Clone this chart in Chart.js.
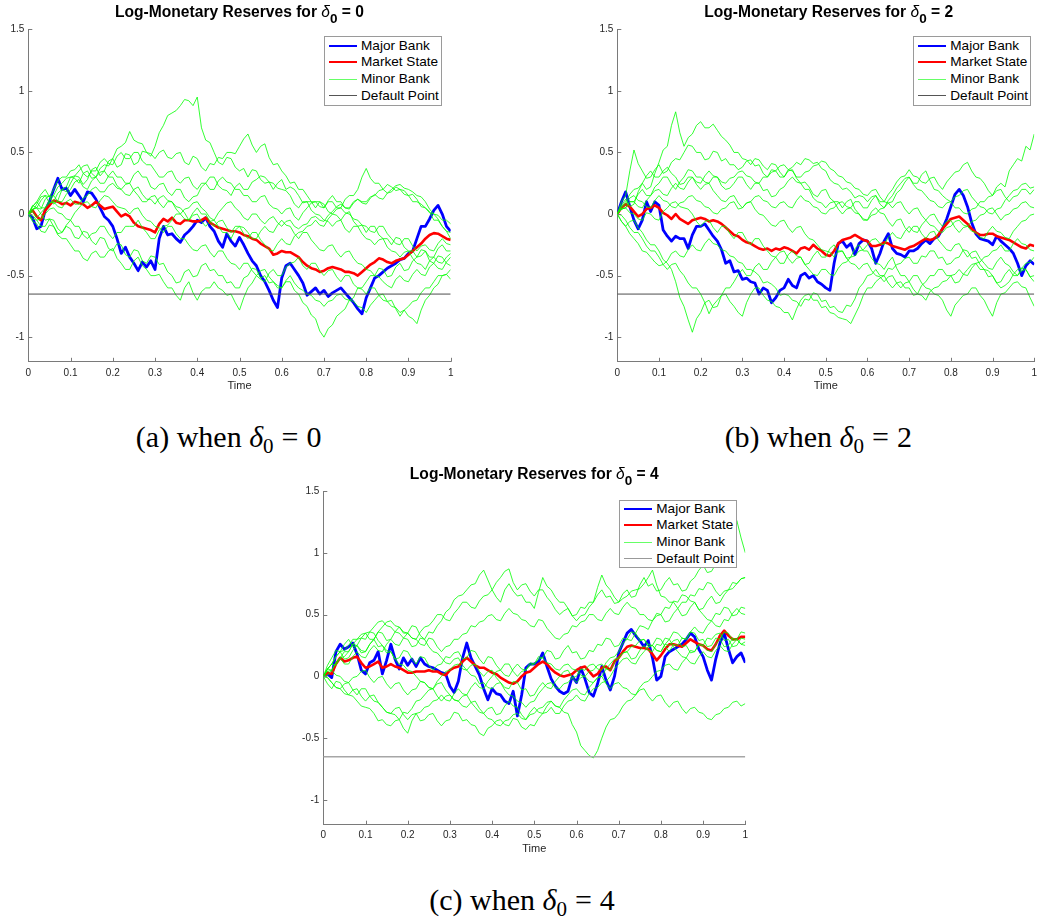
<!DOCTYPE html>
<html>
<head>
<meta charset="utf-8">
<script src="https://cdn.jsdelivr.net/npm/chart.js@4.4.1/dist/chart.umd.min.js"></script>
<style>
  html, body { margin:0; padding:0; background:#fff; }
  #wrap { position:relative; width:1042px; height:919px; background:#fff; overflow:hidden; }
  canvas { position:absolute; }
  .ttl { position:absolute; width:420px; text-align:center; font-family:"Liberation Sans", Arial, sans-serif;
         font-weight:bold; font-size:15.6px; line-height:15px; color:#000; white-space:nowrap; }
  .ttl .d { font-style:italic; font-weight:normal; }
  .ttl .s { position:relative; top:6px; font-size:13.5px; }
  .cap { position:absolute; width:400px; text-align:center; font-family:"Liberation Serif", "Times New Roman", serif;
         font-size:30px; line-height:30px; color:#000; white-space:nowrap; }
  .cap .d { font-style:italic; }
  .cap .s { position:relative; top:6px; font-size:21px; }
  .cap .eq { margin:0 8px; }
  .leg { position:absolute; background:#fff; border:1px solid #9a9a9a; box-sizing:border-box;
         font-family:"Liberation Sans", Arial, sans-serif; font-size:13.6px; color:#000; }
  .leg .row { position:absolute; left:0; height:16px; width:100%; }
  .leg .ln { position:absolute; left:4px; width:28px; top:8px; }
  .leg .tx { position:absolute; left:36px; top:0; line-height:16px; white-space:nowrap; }
</style>
</head>
<body>
<div id="wrap">
  <canvas id="cA" width="470" height="400" style="left:0px;top:0px"></canvas>
  <canvas id="cB" width="453" height="400" style="left:589px;top:0px"></canvas>
  <canvas id="cC" width="470" height="400" style="left:295px;top:462px"></canvas>
</div>
<script>
// ---------------- DATA ----------------
const T_FINE = [0,0.01,0.02,0.03,0.04,0.05,0.06,0.07,0.08,0.09,0.1,0.11,0.12,0.13,0.14,0.15,0.16,0.17,0.18,0.19,0.2,0.21,0.22,0.23,0.24,0.25,0.26,0.27,0.28,0.29,0.3,0.31,0.32,0.33,0.34,0.35,0.36,0.37,0.38,0.39,0.4,0.41,0.42,0.43,0.44,0.45,0.46,0.47,0.48,0.49,0.5,0.51,0.52,0.53,0.54,0.55,0.56,0.57,0.58,0.59,0.6,0.61,0.62,0.63,0.64,0.65,0.66,0.67,0.68,0.69,0.7,0.71,0.72,0.73,0.74,0.75,0.76,0.77,0.78,0.79,0.8,0.81,0.82,0.83,0.84,0.85,0.86,0.87,0.88,0.89,0.9,0.91,0.92,0.93,0.94,0.95,0.96,0.97,0.98,0.99,1];
const T_DEFAULT = [0, 1];
const DEFAULT_LEVEL = [-0.65, -0.65];

const X_TICKS = [0,0.1,0.2,0.3,0.4,0.5,0.6,0.7,0.8,0.9,1];
const Y_TICKS = [-1,-0.5,0,0.5,1,1.5];
const LEGEND_NAMES = ['Major Bank','Market State','Minor Bank','Default Point'];
const PANEL_DELTA = ['0','2','4'];
const PANEL_LETTER = ['a','b','c'];

// Panel (a): delta0 = 0
const BLUE_A = [0,-0.03,-0.12,-0.1,0.03,0.1,0.2,0.29,0.2,0.21, 0.15,0.2,0.15,0.1,0.18,0.17,0.12,0.05,-0.02,-0.05, -0.1,-0.2,-0.32,-0.27,-0.35,-0.4,-0.46,-0.39,-0.43,-0.38, -0.45,-0.2,-0.1,-0.17,-0.16,-0.2,-0.23,-0.17,-0.14,-0.1, -0.05,-0.07,-0.03,-0.1,-0.14,-0.22,-0.27,-0.16,-0.22,-0.26, -0.19,-0.25,-0.32,-0.38,-0.42,-0.5,-0.55,-0.62,-0.7,-0.76, -0.52,-0.42,-0.4,-0.45,-0.5,-0.56,-0.66,-0.63,-0.6,-0.65, -0.62,-0.67,-0.64,-0.62,-0.6,-0.64,-0.68,-0.72,-0.77,-0.81, -0.68,-0.6,-0.52,-0.5,-0.47,-0.44,-0.42,-0.4,-0.37,-0.36, -0.32,-0.3,-0.2,-0.1,-0.1,-0.04,0.03,0.07,0,-0.1, -0.14];
const RED_A = [0,0.03,-0.02,-0.05,0.03,0.07,0.11,0.1,0.08,0.09, 0.07,0.1,0.09,0.08,0.05,0.07,0.1,0.07,0.04,0.05, 0.06,0.02,-0.02,0,-0.02,-0.07,-0.1,-0.11,-0.12,-0.13, -0.15,-0.08,-0.04,-0.06,-0.03,-0.07,-0.08,-0.05,-0.05,-0.06, -0.06,-0.05,-0.03,-0.07,-0.09,-0.11,-0.12,-0.13,-0.14,-0.14, -0.15,-0.17,-0.18,-0.2,-0.21,-0.24,-0.26,-0.28,-0.33,-0.32, -0.3,-0.31,-0.31,-0.33,-0.35,-0.39,-0.42,-0.44,-0.45,-0.47, -0.46,-0.44,-0.43,-0.44,-0.45,-0.47,-0.47,-0.48,-0.5,-0.47, -0.44,-0.41,-0.39,-0.36,-0.37,-0.39,-0.4,-0.38,-0.37,-0.36, -0.33,-0.3,-0.27,-0.24,-0.2,-0.17,-0.155,-0.16,-0.18,-0.2, -0.21];
const MINOR_A1 = [0,0.07,0.05,0.04,0.12,0.15,0.08,0.11,0.2,0.18, 0.25,0.31,0.3,0.24,0.28,0.36,0.38,0.31,0.35,0.43, 0.45,0.38,0.4,0.49,0.48,0.4,0.42,0.51,0.5,0.47, 0.55,0.66,0.72,0.8,0.82,0.84,0.88,0.93,0.92,0.88, 0.95,0.7,0.6,0.58,0.5,0.42,0.4,0.46,0.45,0.38, 0.35,0.37,0.3,0.36,0.35,0.28,0.25,0.26,0.2,0.25, 0.28,0.2,0.22,0.2,0.15,0.09,0.1,0.1,0.05,0.1, 0.08,0.02,0,-0.01,-0.05,0,0.02,-0.06,-0.1,-0.09, -0.15,-0.1,-0.1,-0.17,-0.2,-0.2,-0.25,-0.19,-0.2,-0.27, -0.3,-0.3,-0.35,-0.29,-0.3,-0.38,-0.4,-0.34,-0.35,-0.4, -0.42];
const MINOR_A2 = [0,0.02,0.08,0.14,0.15,0.09,0.1,0.17,0.2,0.22, 0.3,0.29,0.25,0.33,0.35,0.29,0.3,0.37,0.4,0.39, 0.45,0.53,0.55,0.58,0.67,0.6,0.58,0.57,0.5,0.49, 0.45,0.5,0.52,0.46,0.45,0.49,0.5,0.42,0.4,0.47, 0.45,0.38,0.35,0.41,0.4,0.46,0.45,0.5,0.5,0.49, 0.55,0.61,0.65,0.56,0.5,0.55,0.57,0.46,0.4,0.41, 0.35,0.31,0.25,0.26,0.2,0.2,0.15,0.1,0.1,0.1, 0.05,0.1,0.1,0.05,0.05,0.12,0.15,0.15,0.2,0.3, 0.37,0.29,0.25,0.25,0.2,0.24,0.22,0.19,0.2,0.19, 0.15,0.16,0.12,0.06,0.05,0.02,-0.05,-0.05,-0.1,-0.14, -0.15];
const MINOR_A3 = [0,-0.04,-0.05,-0.1,-0.1,-0.04,-0.05,-0.12,-0.15,-0.1, -0.12,-0.19,-0.2,-0.14,-0.15,-0.22,-0.25,-0.19,-0.2,-0.28, -0.3,-0.24,-0.25,-0.33,-0.35,-0.29,-0.3,-0.38,-0.4,-0.34, -0.35,-0.41,-0.4,-0.47,-0.5,-0.56,-0.55,-0.47,-0.45,-0.51, -0.5,-0.42,-0.4,-0.46,-0.45,-0.5,-0.5,-0.56,-0.55,-0.6, -0.6,-0.52,-0.5,-0.44,-0.45,-0.52,-0.5,-0.56,-0.55,-0.6, -0.6,-0.55,-0.55,-0.62,-0.65,-0.72,-0.75,-0.82,-0.85,-0.95, -1.0,-0.93,-0.9,-0.83,-0.8,-0.77,-0.7,-0.68,-0.6,-0.6, -0.55,-0.5,-0.5,-0.44,-0.45,-0.51,-0.5,-0.43,-0.4,-0.46, -0.45,-0.38,-0.35,-0.34,-0.3,-0.35,-0.35,-0.28,-0.25,-0.3, -0.3];
const MINOR_A4 = [0,-0.06,-0.08,-0.14,-0.15,-0.09,-0.1,-0.17,-0.2,-0.2, -0.25,-0.3,-0.3,-0.36,-0.38,-0.32,-0.3,-0.35,-0.35,-0.3, -0.28,-0.36,-0.4,-0.45,-0.45,-0.38,-0.35,-0.42,-0.45,-0.5, -0.5,-0.49,-0.55,-0.6,-0.6,-0.66,-0.7,-0.6,-0.55,-0.64, -0.7,-0.63,-0.6,-0.6,-0.55,-0.6,-0.62,-0.66,-0.65,-0.72, -0.78,-0.68,-0.6,-0.56,-0.5,-0.53,-0.55,-0.48,-0.45,-0.5, -0.5,-0.43,-0.4,-0.39,-0.35,-0.42,-0.45,-0.4,-0.4,-0.46, -0.5,-0.46,-0.45,-0.51,-0.55,-0.5,-0.5,-0.57,-0.6,-0.61, -0.65,-0.6,-0.6,-0.66,-0.7,-0.71,-0.75,-0.76,-0.8,-0.78, -0.83,-0.85,-0.89,-0.78,-0.7,-0.66,-0.6,-0.57,-0.5,-0.49, -0.53];
const MINOR_A5 = [0,0.06,0.1,0.05,0.05,0.11,0.15,0.1,0.1,0.16, 0.2,0.26,0.28,0.22,0.2,0.27,0.3,0.25,0.25,0.31, 0.35,0.3,0.3,0.25,0.25,0.32,0.35,0.3,0.3,0.22, 0.2,0.24,0.25,0.18,0.15,0.2,0.2,0.13,0.1,0.14, 0.15,0.22,0.25,0.2,0.2,0.27,0.3,0.26,0.25,0.2, 0.2,0.15,0.15,0.1,0.1,0.14,0.15,0.08,0.05,0.04, 0,0.04,0.05,-0.02,-0.05,0.01,0.05,0.09,0.1,0.06, 0.05,0.11,0.15,0.1,0.1,0.05,0.05,0.1,0.12,0.1, 0.1,0.14,0.15,0.19,0.2,0.17,0.18,0.22,0.2,0.16, 0.15,0.1,0.1,0.08,0.05,0.01,0,-0.01,-0.05,-0.05, -0.08];
const MINOR_A6 = [0,0.04,0.05,0.11,0.15,0.14,0.2,0.27,0.3,0.3, 0.35,0.36,0.4,0.33,0.3,0.35,0.35,0.42,0.45,0.41, 0.4,0.47,0.5,0.45,0.45,0.5,0.5,0.43,0.4,0.4, 0.35,0.3,0.3,0.34,0.35,0.28,0.25,0.29,0.3,0.23, 0.2,0.25,0.25,0.3,0.3,0.23,0.2,0.19,0.15,0.22, 0.25,0.2,0.2,0.26,0.28,0.31,0.3,0.26,0.25,0.21, 0.2,0.19,0.15,0.08,0.05,0.1,0.1,0.03,0,-0.01, -0.05,-0.06,-0.1,-0.06,-0.05,-0.12,-0.15,-0.1,-0.1,-0.16, -0.2,-0.21,-0.25,-0.21,-0.2,-0.27,-0.3,-0.31,-0.35,-0.31, -0.3,-0.36,-0.4,-0.41,-0.45,-0.38,-0.35,-0.39,-0.4,-0.35, -0.32];
const MINOR_A7 = [0,-0.01,-0.05,-0.04,0,0.04,0.05,0.01,0,-0.04, -0.05,0.01,0.05,0.09,0.1,0.06,0.05,0.11,0.15,0.14, 0.1,0.06,0.05,0.04,0,0.04,0.05,-0.01,-0.05,-0.06, -0.1,-0.11,-0.15,-0.1,-0.1,-0.16,-0.2,-0.2,-0.25,-0.29, -0.3,-0.26,-0.25,-0.31,-0.35,-0.3,-0.3,-0.36,-0.4,-0.41, -0.45,-0.4,-0.4,-0.46,-0.5,-0.46,-0.45,-0.51,-0.55,-0.58, -0.6,-0.54,-0.5,-0.56,-0.6,-0.62,-0.65,-0.66,-0.7,-0.71, -0.75,-0.71,-0.7,-0.66,-0.65,-0.69,-0.7,-0.71,-0.75,-0.76, -0.8,-0.74,-0.7,-0.66,-0.65,-0.71,-0.7,-0.77,-0.83,-0.78, -0.75,-0.71,-0.7,-0.64,-0.6,-0.6,-0.55,-0.5,-0.5,-0.49, -0.45];
const MINOR_A8 = [0,0.04,0.05,0,-0.05,-0.04,-0.1,-0.16,-0.15,-0.09, -0.05,-0.1,-0.1,-0.17,-0.2,-0.16,-0.15,-0.1,-0.1,-0.16, -0.2,-0.15,-0.15,-0.1,-0.1,-0.1,-0.05,-0.11,-0.15,-0.2, -0.2,-0.13,-0.1,-0.09,-0.05,0,0,-0.04,-0.05,0.01, 0.05,0,0,-0.06,-0.1,-0.06,-0.05,-0.11,-0.15,-0.1, -0.1,-0.16,-0.2,-0.15,-0.15,-0.21,-0.25,-0.29,-0.3,-0.24, -0.2,-0.24,-0.25,-0.18,-0.15,-0.14,-0.1,-0.09,-0.05,-0.09, -0.1,-0.04,0,0.04,0.05,0.01,0,-0.04,-0.05,-0.09, -0.1,-0.14,-0.15,-0.1,-0.1,-0.16,-0.2,-0.24,-0.25,-0.2, -0.2,-0.26,-0.3,-0.26,-0.25,-0.29,-0.3,-0.24,-0.2,-0.24, -0.25];
const MINOR_A9 = [0,0.06,0.1,0.16,0.2,0.14,0.15,0.22,0.25,0.29, 0.3,0.31,0.35,0.39,0.4,0.33,0.3,0.34,0.35,0.3, 0.3,0.23,0.2,0.24,0.25,0.19,0.15,0.1,0.1,0.14, 0.15,0.09,0.05,0.1,0.1,0.06,0.05,0.01,-0.05,-0.01, 0,-0.06,-0.1,-0.06,-0.05,-0.1,-0.15,-0.15,-0.2,-0.13, -0.1,-0.11,-0.15,-0.2,-0.2,-0.14,-0.1,-0.14,-0.15,-0.09, -0.05,-0.09,-0.1,-0.16,-0.2,-0.15,-0.15,-0.21,-0.25,-0.29, -0.3,-0.26,-0.25,-0.31,-0.35,-0.31,-0.3,-0.36,-0.4,-0.41, -0.45,-0.46,-0.5,-0.51,-0.55,-0.58,-0.6,-0.53,-0.5,-0.54, -0.55,-0.49,-0.45,-0.49,-0.5,-0.43,-0.4,-0.44,-0.45,-0.39, -0.35];
const MINOR_A10 = [0,0.02,-0.03,0.01,0.05,0.09,0.1,0.06,0.05,0.1, 0.12,0.08,0.08,0.13,0.15,0.2,0.22,0.18,0.18,0.23, 0.25,0.21,0.2,0.16,0.15,0.2,0.22,0.16,0.12,0.12, 0.08,0.13,0.15,0.11,0.1,0.04,0,0.04,0.05,0.09, 0.1,0.05,0.02,-0.03,-0.05,0.01,0.05,0.09,0.1,0.05, 0.02,-0.03,-0.05,0,0,-0.05,-0.08,-0.04,-0.02,-0.07, -0.1,-0.06,-0.05,-0.1,-0.12,-0.09,-0.08,-0.03,-0.02,-0.05, -0.06,-0.01,0.02,0.06,0.08,0.05,0.04,0.09,0.12,0.09, 0.08,0.13,0.16,0.13,0.12,0.17,0.2,0.23,0.24,0.21, 0.2,0.18,0.15,0.14,0.1,0.04,0,-0.04,-0.1,-0.14, -0.2];

// Panel (b): delta0 = 2
const BLUE_B = [0,0.1,0.18,0.06,-0.05,-0.12,-0.05,0.1,0.02,0.1, 0.07,-0.13,-0.18,-0.22,-0.18,-0.2,-0.2,-0.28,-0.17,-0.1, -0.1,-0.08,-0.13,-0.18,-0.22,-0.29,-0.4,-0.38,-0.47,-0.46, -0.53,-0.52,-0.55,-0.56,-0.65,-0.6,-0.62,-0.72,-0.68,-0.62, -0.6,-0.53,-0.58,-0.6,-0.5,-0.48,-0.52,-0.5,-0.55,-0.57, -0.6,-0.62,-0.4,-0.24,-0.22,-0.27,-0.24,-0.33,-0.24,-0.21, -0.22,-0.28,-0.4,-0.32,-0.22,-0.16,-0.28,-0.32,-0.33,-0.35, -0.3,-0.3,-0.28,-0.24,-0.21,-0.24,-0.2,-0.18,-0.12,-0.04, 0.06,0.16,0.2,0.15,0.06,-0.07,-0.16,-0.2,-0.21,-0.22, -0.25,-0.18,-0.22,-0.25,-0.28,-0.32,-0.4,-0.5,-0.42,-0.38, -0.41];
const RED_B = [0,0.05,0.08,0.06,0.02,-0.02,0,0.04,0.05,0.07, 0.05,0.01,-0.01,-0.04,0,-0.04,-0.06,-0.08,-0.05,-0.04, -0.03,-0.04,-0.06,-0.05,-0.06,-0.08,-0.11,-0.14,-0.17,-0.18, -0.21,-0.23,-0.24,-0.26,-0.28,-0.29,-0.28,-0.3,-0.28,-0.29, -0.27,-0.28,-0.3,-0.32,-0.28,-0.27,-0.29,-0.25,-0.28,-0.3, -0.33,-0.34,-0.3,-0.24,-0.21,-0.2,-0.19,-0.17,-0.19,-0.21, -0.22,-0.26,-0.26,-0.25,-0.23,-0.24,-0.26,-0.27,-0.28,-0.29, -0.27,-0.26,-0.24,-0.22,-0.2,-0.21,-0.2,-0.17,-0.12,-0.08, -0.04,-0.03,-0.02,-0.05,-0.08,-0.12,-0.15,-0.17,-0.17,-0.16, -0.16,-0.18,-0.19,-0.2,-0.21,-0.23,-0.25,-0.27,-0.28,-0.25, -0.26];
const MINOR_B1 = [0,0.07,0.12,0.06,0.08,0.18,0.25,0.2,0.22,0.33, 0.42,0.52,0.55,0.72,0.83,0.66,0.55,0.62,0.65,0.72, 0.75,0.7,0.7,0.73,0.68,0.63,0.6,0.56,0.5,0.5, 0.45,0.44,0.4,0.45,0.44,0.39,0.36,0.41,0.4,0.34, 0.3,0.35,0.36,0.29,0.25,0.26,0.22,0.16,0.14,0.19, 0.2,0.13,0.1,0.1,0.05,0.1,0.12,0.04,0,-0.05, -0.05,0.02,0.05,0.01,0,-0.06,-0.1,-0.05,-0.04,-0.11, -0.15,-0.1,-0.1,-0.16,-0.2,-0.15,-0.14,-0.21,-0.25,-0.29, -0.3,-0.25,-0.24,-0.3,-0.35,-0.31,-0.3,-0.36,-0.4,-0.44, -0.45,-0.39,-0.35,-0.4,-0.42,-0.47,-0.5,-0.46,-0.45,-0.51, -0.55];
const MINOR_B2 = [0,0.1,0.15,0.35,0.52,0.41,0.35,0.29,0.3,0.36, 0.4,0.33,0.35,0.42,0.45,0.44,0.5,0.56,0.55,0.5, 0.5,0.44,0.45,0.51,0.5,0.43,0.45,0.4,0.4,0.36, 0.38,0.43,0.44,0.39,0.4,0.33,0.3,0.36,0.35,0.3, 0.3,0.36,0.38,0.42,0.4,0.45,0.44,0.41,0.42,0.37, 0.35,0.28,0.25,0.24,0.2,0.21,0.18,0.13,0.15,0.14, 0.1,0.14,0.15,0.08,0.05,0.09,0.1,0.17,0.2,0.26, 0.3,0.25,0.25,0.32,0.35,0.27,0.2,0.19,0.15,0.12, 0.1,0.05,0.05,0.01,0,0.04,0.05,0.1,0.1,0.14, 0.15,0.22,0.25,0.22,0.35,0.4,0.45,0.43,0.55,0.52, 0.65];
const MINOR_B3 = [0,0.04,0.05,0.1,0.1,0.16,0.2,0.15,0.15,0.22, 0.25,0.3,0.3,0.24,0.2,0.26,0.3,0.36,0.35,0.3, 0.3,0.26,0.25,0.3,0.3,0.23,0.2,0.21,0.25,0.3, 0.3,0.24,0.2,0.25,0.25,0.19,0.2,0.14,0.15,0.2, 0.22,0.27,0.3,0.26,0.25,0.2,0.2,0.13,0.1,0.09, 0.05,0.09,0.1,0.04,0,0.04,0.05,0.1,0.1,0.05, 0.05,0.11,0.15,0.1,0.1,0.16,0.2,0.26,0.3,0.31, 0.36,0.31,0.3,0.26,0.25,0.29,0.3,0.24,0.2,0.26, 0.3,0.34,0.35,0.4,0.42,0.35,0.3,0.29,0.25,0.19, 0.15,0.19,0.2,0.14,0.1,0.14,0.15,0.2,0.2,0.16, 0.2];
const MINOR_B4 = [0,-0.06,-0.1,-0.06,-0.05,-0.11,-0.15,-0.21,-0.25,-0.25, -0.3,-0.37,-0.4,-0.45,-0.55,-0.68,-0.75,-0.86,-0.96,-0.85, -0.8,-0.72,-0.7,-0.76,-0.75,-0.66,-0.6,-0.6,-0.55,-0.49, -0.45,-0.5,-0.5,-0.43,-0.4,-0.45,-0.45,-0.39,-0.35,-0.4, -0.4,-0.33,-0.3,-0.34,-0.35,-0.41,-0.4,-0.34,-0.3,-0.35, -0.35,-0.28,-0.25,-0.31,-0.3,-0.36,-0.35,-0.28,-0.25,-0.3, -0.3,-0.36,-0.4,-0.41,-0.45,-0.39,-0.35,-0.44,-0.5,-0.5, -0.55,-0.5,-0.5,-0.56,-0.6,-0.61,-0.65,-0.66,-0.7,-0.78, -0.83,-0.74,-0.7,-0.66,-0.65,-0.6,-0.6,-0.66,-0.7,-0.77, -0.83,-0.72,-0.65,-0.64,-0.6,-0.56,-0.55,-0.59,-0.6,-0.68, -0.75];
const MINOR_B5 = [0,-0.01,-0.05,-0.11,-0.15,-0.15,-0.2,-0.26,-0.3,-0.3, -0.35,-0.41,-0.45,-0.41,-0.4,-0.46,-0.5,-0.56,-0.6,-0.6, -0.65,-0.72,-0.81,-0.74,-0.7,-0.66,-0.65,-0.71,-0.75,-0.8, -0.83,-0.72,-0.65,-0.6,-0.6,-0.66,-0.7,-0.71,-0.75,-0.76, -0.8,-0.8,-0.86,-0.77,-0.7,-0.66,-0.65,-0.7,-0.7,-0.76, -0.75,-0.8,-0.81,-0.84,-0.85,-0.86,-0.89,-0.82,-0.75,-0.66, -0.6,-0.6,-0.55,-0.52,-0.5,-0.56,-0.6,-0.56,-0.55,-0.6, -0.6,-0.66,-0.65,-0.58,-0.55,-0.5,-0.5,-0.45,-0.45,-0.5, -0.5,-0.56,-0.55,-0.49,-0.45,-0.41,-0.4,-0.45,-0.45,-0.51, -0.5,-0.56,-0.55,-0.49,-0.45,-0.5,-0.5,-0.44,-0.45,-0.51, -0.5];
const MINOR_B6 = [0,0.04,0.05,0.01,0,-0.04,-0.05,0.01,0,-0.04, -0.05,0.02,0.05,0.09,0.1,0.06,0.05,0.04,0,-0.06, -0.1,-0.06,-0.05,-0.11,-0.15,-0.1,-0.1,-0.16,-0.2,-0.15, -0.15,-0.21,-0.25,-0.2,-0.2,-0.26,-0.3,-0.34,-0.35,-0.31, -0.3,-0.36,-0.4,-0.36,-0.35,-0.41,-0.45,-0.49,-0.5,-0.45, -0.45,-0.49,-0.5,-0.44,-0.4,-0.39,-0.35,-0.34,-0.3,-0.29, -0.25,-0.21,-0.2,-0.24,-0.25,-0.19,-0.15,-0.19,-0.2,-0.14, -0.1,-0.14,-0.15,-0.09,-0.05,-0.09,-0.1,-0.14,-0.15,-0.11, -0.1,-0.06,-0.05,-0.09,-0.1,-0.14,-0.15,-0.19,-0.2,-0.14, -0.1,-0.14,-0.15,-0.19,-0.2,-0.14,-0.1,-0.06,-0.05,-0.01, 0];
const MINOR_B7 = [0,0.06,0.1,0.16,0.2,0.21,0.25,0.31,0.35,0.3, 0.3,0.35,0.38,0.33,0.3,0.24,0.25,0.3,0.3,0.24, 0.2,0.24,0.25,0.19,0.15,0.11,0.1,0.14,0.15,0.09, 0.05,0.09,0.1,0.04,0,-0.01,-0.05,-0.09,-0.1,-0.06, -0.05,-0.11,-0.15,-0.11,-0.1,-0.16,-0.2,-0.21,-0.25,-0.29, -0.3,-0.31,-0.35,-0.3,-0.3,-0.36,-0.4,-0.41,-0.45,-0.41, -0.4,-0.46,-0.5,-0.51,-0.55,-0.51,-0.5,-0.56,-0.6,-0.56, -0.55,-0.61,-0.65,-0.66,-0.7,-0.63,-0.6,-0.59,-0.55,-0.54, -0.5,-0.49,-0.45,-0.49,-0.5,-0.44,-0.4,-0.39,-0.35,-0.34, -0.3,-0.29,-0.25,-0.3,-0.3,-0.24,-0.2,-0.24,-0.25,-0.29, -0.3];
const MINOR_B8 = [0,0.04,0.05,0.1,0.1,0.06,0.05,0.11,0.15,0.19, 0.2,0.16,0.15,0.21,0.25,0.21,0.2,0.26,0.3,0.26, 0.25,0.31,0.35,0.31,0.3,0.26,0.25,0.29,0.3,0.34, 0.35,0.31,0.3,0.26,0.25,0.3,0.3,0.34,0.35,0.39, 0.4,0.36,0.35,0.3,0.3,0.34,0.35,0.39,0.4,0.43, 0.42,0.37,0.35,0.31,0.3,0.26,0.25,0.21,0.2,0.16, 0.15,0.19,0.2,0.14,0.1,0.09,0.05,0.09,0.1,0.04, 0,0.04,0.05,-0.01,-0.05,-0.01,0,-0.06,-0.1,-0.06, -0.05,-0.11,-0.15,-0.11,-0.1,-0.06,-0.05,-0.01,0,0.04, 0.05,0,-0.05,-0.01,0,0.04,0.05,0.09,0.1,0.06, 0.05];
const MINOR_B9 = [0,-0.06,-0.1,-0.16,-0.2,-0.24,-0.3,-0.31,-0.35,-0.39, -0.42,-0.41,-0.38,-0.32,-0.3,-0.34,-0.35,-0.29,-0.25,-0.29, -0.3,-0.24,-0.2,-0.24,-0.25,-0.29,-0.3,-0.34,-0.35,-0.39, -0.4,-0.45,-0.45,-0.47,-0.5,-0.56,-0.55,-0.57,-0.6,-0.66, -0.65,-0.66,-0.7,-0.71,-0.75,-0.69,-0.7,-0.64,-0.65,-0.71, -0.7,-0.76,-0.75,-0.79,-0.8,-0.74,-0.75,-0.69,-0.6,-0.56, -0.5,-0.49,-0.45,-0.5,-0.5,-0.44,-0.45,-0.41,-0.4,-0.36, -0.35,-0.4,-0.4,-0.34,-0.35,-0.3,-0.3,-0.36,-0.35,-0.41, -0.4,-0.36,-0.35,-0.29,-0.3,-0.36,-0.35,-0.41,-0.45,-0.46, -0.5,-0.56,-0.6,-0.58,-0.55,-0.49,-0.45,-0.44,-0.4,-0.39, -0.35];
const MINOR_B10 = [0,0.05,0.08,0.13,0.15,0.11,0.1,0.06,0.05,0.11, 0.15,0.11,0.1,0.06,0.05,0.09,0.1,0.14,0.15,0.11, 0.1,0.06,0.05,0.01,0,0.04,0.05,0.09,0.1,0.04, 0.05,0.09,0.1,0.14,0.15,0.11,0.1,0.06,0.05,0.09, 0.1,0.06,0.05,0.11,0.15,0.11,0.1,0.06,0.05,0.01, 0,0.04,0.05,0.09,0.1,0.06,0.05,0.01,0,-0.04, -0.05,-0.01,0,0.04,0.05,0.11,0.15,0.21,0.25,0.29, 0.3,0.24,0.2,0.19,0.15,0.11,0.1,0.06,0.05,0.09, 0.1,0.14,0.15,0.19,0.2,0.14,0.1,0.06,0.05,0.01, 0,0.04,0.05,0.11,0.15,0.19,0.2,0.24,0.25,0.21, 0.22];

// Panel (c): delta0 = 4
const BLUE_C = [0,0.02,-0.01,0.2,0.26,0.22,0.24,0.27,0.18,0.05, 0.02,0.11,0.13,0.2,0.02,0.13,0.26,0.14,0.06,0.15, 0.09,0.14,0.08,0.15,0.1,0.08,0.07,0.05,0.03,0.02, -0.08,-0.13,-0.04,0.15,0.27,0.15,0.08,0.01,-0.1,-0.19, -0.1,-0.14,-0.15,-0.2,-0.22,-0.12,-0.32,-0.15,0.07,0.1, 0.1,0.12,0.19,0.08,-0.02,-0.08,-0.12,-0.14,-0.12,0, -0.05,0.07,-0.02,-0.13,-0.16,-0.06,0.08,-0.03,-0.11,0, 0.19,0.27,0.35,0.38,0.33,0.29,0.24,0.29,0.15,-0.03, 0,0.16,0.2,0.22,0.24,0.26,0.3,0.35,0.32,0.22, 0.16,0.05,-0.03,0.14,0.27,0.35,0.22,0.11,0.16,0.19, 0.11];
const RED_C = [0,0.03,0.02,0.1,0.15,0.12,0.13,0.15,0.16,0.11, 0.07,0.08,0.1,0.12,0.07,0.08,0.1,0.08,0.07,0.05, 0.03,0.03,0.04,0.04,0.04,0.05,0.04,0.04,0.02,0.01, 0.05,0.07,0.08,0.12,0.15,0.12,0.09,0.07,0.07,0.05, 0.03,0.02,-0.01,-0.03,-0.05,-0.06,-0.04,0,0.03,0.04, 0.07,0.1,0.12,0.1,0.06,0.03,0.01,0,0.01,0.02, 0.05,0.07,0.08,0.04,0,0.02,0.07,0.08,0.05,0.12, 0.15,0.2,0.24,0.25,0.24,0.23,0.23,0.22,0.18,0.13, 0.17,0.22,0.26,0.26,0.25,0.24,0.27,0.3,0.28,0.26, 0.25,0.22,0.21,0.26,0.33,0.37,0.33,0.3,0.3,0.32, 0.32];
const MINOR_C1 = [0,0.06,0.1,0.09,0.15,0.2,0.2,0.26,0.25,0.21, 0.2,0.26,0.3,0.36,0.35,0.29,0.3,0.36,0.4,0.35, 0.35,0.41,0.4,0.33,0.3,0.36,0.35,0.41,0.45,0.52, 0.55,0.62,0.65,0.66,0.7,0.74,0.75,0.82,0.86,0.78, 0.7,0.64,0.6,0.7,0.75,0.69,0.65,0.66,0.6,0.6, 0.55,0.68,0.8,0.73,0.7,0.64,0.6,0.6,0.55,0.49, 0.5,0.56,0.55,0.6,0.6,0.66,0.7,0.64,0.65,0.59, 0.6,0.67,0.7,0.64,0.65,0.74,0.8,0.73,0.75,0.69, 0.7,0.76,0.8,0.74,0.75,0.69,0.7,0.77,0.8,0.86, 0.9,0.84,0.85,0.91,0.9,0.97,1.05,1.15,1.26,1.12, 1.0];
const MINOR_C2 = [0,0.01,0.05,0.11,0.15,0.1,0.1,0.16,0.2,0.16, 0.15,0.21,0.25,0.21,0.2,0.26,0.3,0.26,0.25,0.31, 0.35,0.31,0.3,0.36,0.4,0.41,0.45,0.5,0.5,0.46, 0.45,0.51,0.55,0.6,0.6,0.56,0.55,0.61,0.65,0.66, 0.7,0.76,0.8,0.85,0.87,0.76,0.7,0.74,0.75,0.69, 0.65,0.7,0.7,0.64,0.6,0.54,0.5,0.53,0.55,0.49, 0.45,0.49,0.5,0.56,0.6,0.72,0.82,0.74,0.7,0.64, 0.6,0.63,0.65,0.69,0.7,0.71,0.75,0.8,0.86,0.74, 0.65,0.64,0.6,0.6,0.55,0.6,0.6,0.66,0.65,0.71, 0.7,0.76,0.75,0.69,0.65,0.69,0.7,0.76,0.75,0.79, 0.8];
const MINOR_C3 = [0,0.06,0.1,0.16,0.2,0.21,0.25,0.3,0.3,0.34, 0.35,0.3,0.3,0.36,0.4,0.44,0.45,0.41,0.4,0.36, 0.35,0.31,0.3,0.26,0.25,0.31,0.3,0.24,0.2,0.24, 0.25,0.3,0.3,0.34,0.35,0.41,0.4,0.44,0.45,0.49, 0.5,0.46,0.45,0.51,0.55,0.51,0.5,0.46,0.45,0.41, 0.4,0.46,0.45,0.39,0.35,0.31,0.3,0.34,0.35,0.41, 0.4,0.44,0.45,0.5,0.5,0.46,0.45,0.51,0.55,0.51, 0.5,0.56,0.6,0.56,0.55,0.5,0.5,0.46,0.45,0.49, 0.5,0.56,0.55,0.61,0.6,0.66,0.65,0.61,0.6,0.54, 0.5,0.46,0.45,0.51,0.5,0.56,0.55,0.49,0.5,0.56, 0.55];
const MINOR_C4 = [0,-0.01,-0.05,-0.09,-0.1,-0.06,-0.05,-0.11,-0.15,-0.1, -0.1,-0.16,-0.2,-0.21,-0.25,-0.29,-0.3,-0.31,-0.35,-0.42, -0.46,-0.36,-0.3,-0.29,-0.25,-0.24,-0.2,-0.19,-0.15,-0.19, -0.2,-0.14,-0.1,-0.14,-0.15,-0.09,-0.05,-0.09,-0.1,-0.04, 0,0.04,0.05,0.01,0,0.06,0.1,0.06,0.05,0.09, 0.1,0.14,0.15,0.11,0.1,0.06,0.05,0.09,0.1,0.06, 0.05,0.01,0,-0.04,-0.05,-0.01,0,-0.06,-0.1,-0.06, -0.05,-0.09,-0.1,-0.14,-0.15,-0.11,-0.1,-0.16,-0.2,-0.16, -0.15,-0.21,-0.25,-0.21,-0.2,-0.26,-0.3,-0.26,-0.25,-0.29, -0.3,-0.34,-0.35,-0.31,-0.3,-0.26,-0.25,-0.21,-0.2,-0.24, -0.22];
const MINOR_C5 = [0,0.04,0.05,0.01,0,-0.04,-0.05,-0.01,0,0.04, 0.05,-0.01,-0.05,-0.01,0,-0.06,-0.1,-0.06,-0.05,-0.11, -0.15,-0.11,-0.1,-0.04,-0.05,-0.09,-0.1,-0.16,-0.2,-0.16, -0.15,-0.19,-0.2,-0.24,-0.25,-0.21,-0.2,-0.26,-0.3,-0.26, -0.25,-0.31,-0.3,-0.24,-0.2,-0.24,-0.25,-0.31,-0.35,-0.31, -0.3,-0.26,-0.25,-0.21,-0.2,-0.24,-0.25,-0.29,-0.3,-0.39, -0.45,-0.56,-0.6,-0.64,-0.66,-0.6,-0.5,-0.41,-0.35,-0.34, -0.3,-0.24,-0.2,-0.19,-0.15,-0.09,-0.05,-0.04,0,0.04, 0.05,0.09,0.1,0.06,0.05,0.11,0.15,0.11,0.1,0.16, 0.2,0.16,0.15,0.21,0.25,0.21,0.2,0.26,0.3,0.26, 0.25];
const MINOR_C6 = [0,-0.01,-0.05,-0.09,-0.1,-0.14,-0.15,-0.11,-0.1,-0.16, -0.2,-0.16,-0.15,-0.21,-0.25,-0.29,-0.3,-0.26,-0.25,-0.31, -0.35,-0.31,-0.3,-0.36,-0.35,-0.31,-0.3,-0.36,-0.4,-0.36, -0.35,-0.29,-0.3,-0.36,-0.35,-0.39,-0.4,-0.46,-0.48,-0.42, -0.4,-0.36,-0.35,-0.39,-0.4,-0.34,-0.35,-0.41,-0.43,-0.39, -0.4,-0.34,-0.3,-0.29,-0.25,-0.3,-0.3,-0.24,-0.2,-0.19, -0.15,-0.19,-0.2,-0.14,-0.1,-0.09,-0.05,-0.04,0,0.06, 0.1,0.14,0.15,0.11,0.1,0.16,0.2,0.24,0.25,0.21, 0.2,0.26,0.3,0.36,0.35,0.31,0.3,0.36,0.4,0.36, 0.35,0.41,0.45,0.41,0.4,0.46,0.45,0.51,0.55,0.51, 0.5];
const MINOR_C7 = [0,0.09,0.15,0.21,0.2,0.14,0.15,0.21,0.25,0.19, 0.2,0.26,0.3,0.24,0.25,0.19,0.2,0.14,0.15,0.21, 0.2,0.14,0.1,0.16,0.15,0.09,0.05,0.09,0.1,0.16, 0.15,0.19,0.2,0.14,0.15,0.21,0.2,0.14,0.1,0.16, 0.15,0.09,0.05,0.1,0.1,0.04,0,0.04,0.05,0.11, 0.1,0.16,0.15,0.21,0.2,0.14,0.15,0.21,0.25,0.19, 0.2,0.14,0.15,0.21,0.2,0.26,0.25,0.31,0.3,0.24, 0.25,0.31,0.3,0.36,0.35,0.29,0.3,0.24,0.25,0.31, 0.3,0.24,0.2,0.26,0.25,0.31,0.3,0.36,0.35,0.29, 0.3,0.24,0.25,0.31,0.3,0.36,0.35,0.29,0.3,0.36, 0.35];
const MINOR_C8 = [0,0.06,0.1,0.16,0.2,0.26,0.3,0.24,0.25,0.31, 0.3,0.36,0.35,0.29,0.25,0.21,0.2,0.14,0.1,0.09, 0.05,0.04,0,-0.04,-0.05,-0.09,-0.1,-0.06,-0.05,-0.11, -0.15,-0.19,-0.2,-0.16,-0.15,-0.21,-0.25,-0.29,-0.3,-0.34, -0.35,-0.39,-0.4,-0.36,-0.35,-0.31,-0.3,-0.34,-0.35,-0.29, -0.25,-0.29,-0.3,-0.24,-0.2,-0.24,-0.25,-0.19,-0.15,-0.11, -0.1,-0.14,-0.15,-0.09,-0.05,-0.01,0,0.06,0.1,0.14, 0.15,0.19,0.2,0.24,0.25,0.29,0.3,0.26,0.25,0.21, 0.2,0.26,0.25,0.29,0.3,0.24,0.25,0.19,0.2,0.26, 0.25,0.31,0.3,0.34,0.35,0.29,0.3,0.24,0.25,0.31, 0.3];
const MINOR_C9 = [0,-0.06,-0.1,-0.04,-0.05,-0.11,-0.15,-0.16,-0.2,-0.24, -0.25,-0.26,-0.3,-0.36,-0.35,-0.39,-0.4,-0.36,-0.35,-0.29, -0.3,-0.26,-0.2,-0.19,-0.15,-0.11,-0.1,-0.04,0,0.04, 0.05,0.09,0.1,0.06,0.05,0.01,0,-0.06,-0.05,-0.09, -0.1,-0.06,-0.05,-0.11,-0.15,-0.16,-0.2,-0.21,-0.25,-0.21, -0.2,-0.14,-0.1,-0.06,-0.05,-0.09,-0.1,-0.06,-0.05,-0.01, 0,0.06,0.05,0.09,0.1,0.06,0.05,0.11,0.15,0.16, 0.2,0.27,0.3,0.29,0.35,0.41,0.4,0.38,0.45,0.51, 0.5,0.44,0.45,0.51,0.55,0.49,0.5,0.56,0.6,0.54, 0.55,0.61,0.65,0.59,0.6,0.66,0.7,0.71,0.75,0.79, 0.8];
const MINOR_C10 = [0,0.06,0.05,0.11,0.15,0.16,0.2,0.26,0.3,0.31, 0.35,0.36,0.4,0.44,0.45,0.41,0.4,0.36,0.35,0.31, 0.3,0.24,0.25,0.31,0.3,0.24,0.2,0.19,0.15,0.11, 0.1,0.14,0.15,0.09,0.05,0.09,0.1,0.04,0,0.04, 0.05,-0.01,-0.05,-0.09,-0.1,-0.04,-0.05,-0.11,-0.1,-0.16, -0.15,-0.09,-0.05,-0.09,-0.1,-0.04,0,0.04,0.05,-0.01, -0.05,-0.01,0,0.04,0.05,0.09,0.1,0.06,0.05,0.11, 0.15,0.19,0.2,0.14,0.15,0.21,0.25,0.21,0.2,0.26, 0.25,0.31,0.3,0.24,0.2,0.16,0.15,0.21,0.2,0.26, 0.25,0.21,0.2,0.26,0.3,0.24,0.25,0.31,0.3,0.26, 0.28];

// ---------------- DRAWING ----------------
const FONT = '"Liberation Sans", Arial, Helvetica, sans-serif';
const AXIS_COLOR = '#7a7a7a';
const TEXT_COLOR = '#262626';

const innerTicks = {
  id: 'innerTicks',
  afterDraw(chart) {
    const {ctx, chartArea: a, scales: {x, y}} = chart;
    ctx.save();
    ctx.strokeStyle = AXIS_COLOR;
    ctx.lineWidth = 1;
    ctx.beginPath();
    x.ticks.forEach(t => {
      const px = Math.round(x.getPixelForValue(t.value)) + 0.5;
      ctx.moveTo(px, a.bottom); ctx.lineTo(px, a.bottom - 4);
    });
    y.ticks.forEach(t => {
      const py = Math.round(y.getPixelForValue(t.value)) + 0.5;
      ctx.moveTo(a.left, py); ctx.lineTo(a.left + 4, py);
    });
    ctx.stroke();
    ctx.restore();
  }
};

function pts(ts, ys) { return ts.map((t, i) => ({x: t, y: ys[i]})); }

function makeChart(id, minors, blue, red, defColor, defWidth, pad) {
  const datasets = [];
  datasets.push({label: LEGEND_NAMES[3], data: pts(T_DEFAULT, DEFAULT_LEVEL), borderColor: defColor, borderWidth: defWidth});
  minors.forEach(m => datasets.push({label: LEGEND_NAMES[2], data: pts(T_FINE, m), borderColor: 'rgb(0,255,0)', borderWidth: 0.8}));
  datasets.push({label: LEGEND_NAMES[1], data: pts(T_FINE, red), borderColor: '#ff0000', borderWidth: 2.6});
  datasets.push({label: LEGEND_NAMES[0], data: pts(T_FINE, blue), borderColor: '#0000ff', borderWidth: 2.8});
  return new Chart(document.getElementById(id), {
    type: 'line',
    data: {datasets},
    plugins: [innerTicks],
    options: {
      responsive: false, animation: false, events: [],
      layout: {padding: pad},
      plugins: {legend: {display: false}, tooltip: {enabled: false}, title: {display: false}},
      elements: {point: {radius: 0}, line: {tension: 0, borderJoinStyle: 'round', fill: false}},
      scales: {
        x: {
          type: 'linear', min: 0, max: 1,
          afterBuildTicks: s => { s.ticks = X_TICKS.map(v => ({value: v})); },
          afterFit: s => { s.height = 31; },
          grid: {display: false, drawTicks: false},
          border: {display: true, color: AXIS_COLOR, width: 1},
          ticks: {padding: 5, autoSkip: false, maxRotation: 0, color: TEXT_COLOR, font: {family: FONT, size: 10}, callback: v => String(v)},
          title: {display: true, text: 'Time', color: TEXT_COLOR, font: {family: FONT, size: 11}, padding: 0}
        },
        y: {
          type: 'linear', min: -1.2, max: 1.5,
          afterBuildTicks: s => { s.ticks = Y_TICKS.map(v => ({value: v})); },
          afterFit: s => { s.width = 28.3; },
          grid: {display: false, drawTicks: false},
          border: {display: true, color: AXIS_COLOR, width: 1},
          ticks: {padding: 4, color: TEXT_COLOR, font: {family: FONT, size: 10}, callback: v => String(v)}
        }
      }
    }
  });
}

makeChart('cA', [MINOR_A1,MINOR_A2,MINOR_A3,MINOR_A4,MINOR_A5,MINOR_A6,MINOR_A7,MINOR_A8,MINOR_A9,MINOR_A10], BLUE_A, RED_A, '#4d4d4d', 1,
  {left: 0, right: 19.3, top: 29.3, bottom: 7.2});
makeChart('cB', [MINOR_B1,MINOR_B2,MINOR_B3,MINOR_B4,MINOR_B5,MINOR_B6,MINOR_B7,MINOR_B8,MINOR_B9,MINOR_B10], BLUE_B, RED_B, '#4d4d4d', 1,
  {left: 0, right: 2, top: 29.3, bottom: 7.2});
makeChart('cC', [MINOR_C1,MINOR_C2,MINOR_C3,MINOR_C4,MINOR_C5,MINOR_C6,MINOR_C7,MINOR_C8,MINOR_C9,MINOR_C10], BLUE_C, RED_C, '#a6a6a6', 1.6,
  {left: 0, right: 19.7, top: 29, bottom: 6.3});

// ---------------- TEXT (titles, legends, captions) ----------------
const wrap = document.getElementById('wrap');
const TITLE_POS = [{cx: 239.5, top: 4}, {cx: 828.7, top: 4}, {cx: 534.3, top: 465.6}];
const CAP_POS = [{cx: 228.7, top: 422}, {cx: 818.3, top: 422}, {cx: 522, top: 885}];
const LEG_POS = [{left: 324, top: 36, h: 70}, {left: 913.3, top: 36, h: 70}, {left: 619.3, top: 500, h: 68}];
const LEG_STYLE = [
  {c: '#0000ff', w: 2.6}, {c: '#ff0000', w: 2.6}, {c: '#66ff66', w: 1}, {c: '#555555', w: 1}
];

for (let p = 0; p < 3; p++) {
  const t = document.createElement('div');
  t.className = 'ttl';
  t.style.left = (TITLE_POS[p].cx - 210) + 'px';
  t.style.top = TITLE_POS[p].top + 'px';
  t.innerHTML = 'Log-Monetary Reserves for <span class="d">δ</span><span class="s">0</span> = ' + PANEL_DELTA[p];
  wrap.appendChild(t);

  const c = document.createElement('div');
  c.className = 'cap';
  c.style.left = (CAP_POS[p].cx - 200) + 'px';
  c.style.top = CAP_POS[p].top + 'px';
  c.innerHTML = '(' + PANEL_LETTER[p] + ') when <span class="d">δ</span><span class="s">0</span><span class="eq">=</span>' + PANEL_DELTA[p];
  wrap.appendChild(c);

  const lg = document.createElement('div');
  lg.className = 'leg';
  lg.style.left = LEG_POS[p].left + 'px';
  lg.style.top = LEG_POS[p].top + 'px';
  lg.style.width = '118px';
  lg.style.height = LEG_POS[p].h + 'px';
  const top0 = (LEG_POS[p].h - 4 * 16.6) / 2;
  LEGEND_NAMES.forEach((name, i) => {
    const row = document.createElement('div');
    row.className = 'row';
    row.style.top = (top0 + i * 16.6 - 1) + 'px';
    const st = LEG_STYLE[i];
    const col = (i === 3 && p === 2) ? '#999999' : st.c;
    row.innerHTML = '<div class="ln" style="border-top:' + st.w + 'px solid ' + col + ';margin-top:' + (-st.w / 2) + 'px"></div><div class="tx">' + name + '</div>';
    lg.appendChild(row);
  });
  wrap.appendChild(lg);
}
</script>
</body>
</html>
